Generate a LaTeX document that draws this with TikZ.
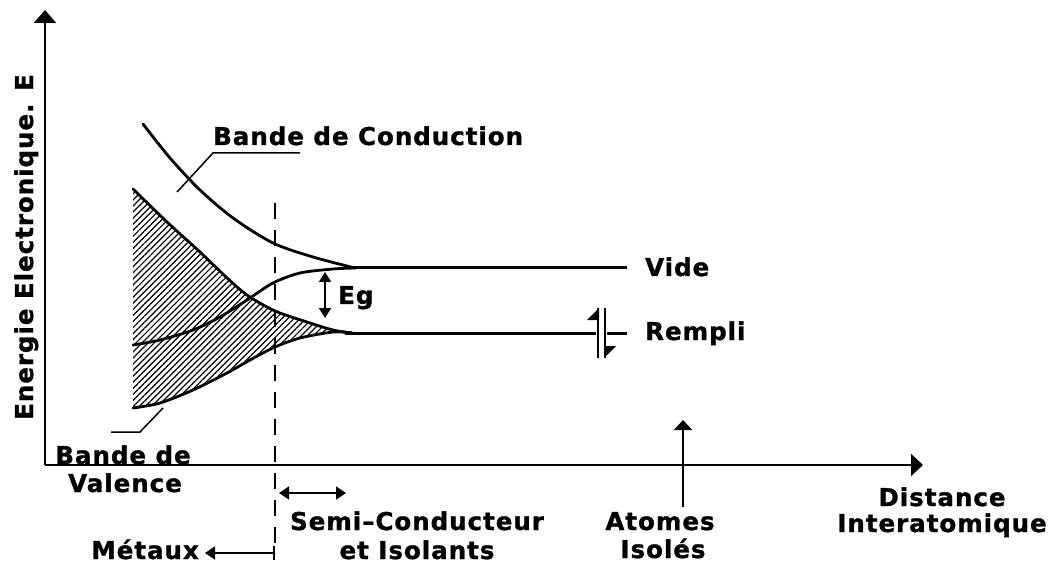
\documentclass[tikz,border=0pt]{standalone}
\usepackage{fontspec}
\setmainfont[LetterSpace=4,BoldFeatures={FakeBold=1.2}]{DejaVu Sans}
\usetikzlibrary{arrows.meta,patterns.meta}
\begin{document}
\begin{tikzpicture}[x=1pt,y=-1pt,
  lbl/.style={font=\bfseries\fontsize{24.5}{28}\selectfont, inner sep=0pt},
  band/.style={line width=2.8pt, line join=round, line cap=round},
  level/.style={line width=3pt},
  axis/.style={line width=2pt},
  leader/.style={line width=1.5pt},
  divider/.style={line width=2pt, dash pattern=on 16pt off 11pt},
  hatch/.style={pattern={Lines[angle=45,distance=4.3pt,line width=1.2pt]}},
  bigtip/.style={-{Triangle[width=22pt,length=13pt]}},
  smalltip/.style={{Triangle[width=12pt,length=10pt]}-{Triangle[width=12pt,length=10pt]}}
]
\useasboundingbox (0,0) rectangle (1058,564);

% hatched valence band
\fill[hatch] plot[smooth] coordinates {(133,189) (167,222) (200,252) (225,276) (247,295) (275,311) (307,322) (333,330) (352,333)}
  -- plot[smooth] coordinates {(352,333) (333,332) (300,338) (275,347) (250,360) (227,373) (193,390) (160,403) (133,408)} -- cycle;

% axes
\coordinate (O) at (45,465);
\coordinate (Ytop) at (45,10);
\coordinate (Xend) at (923,465);
\draw[axis,bigtip] (O) -- (Ytop);
\draw[axis,-{Triangle[width=22pt,length=12pt]}] (O) -- (Xend);

% divider
\coordinate (Dtop) at (275,203);
\coordinate (Dbot) at (275,552);
\draw[divider] (Dtop) -- (Dbot);

% band curves
\draw[band] plot[smooth] coordinates {(143,124) (170,158) (200,190) (233,218) (273,243) (313,257) (355,268)};
\draw[band] plot[smooth] coordinates {(133,345) (160,340) (193,330) (220,317) (247,300) (273,283) (300,273) (333,269) (355,268)};
\draw[band] plot[smooth] coordinates {(133,189) (167,222) (200,252) (225,276) (247,295) (275,311) (307,322) (333,330) (352,333)};
\draw[band] plot[smooth] coordinates {(133,408) (160,403) (193,390) (227,373) (250,360) (275,347) (300,338) (333,332) (352,333)};

% levels
\coordinate (Vs) at (350,268);
\coordinate (Ve) at (627,268);
\draw[level] (Vs) -- (Ve);
\coordinate (Rs) at (345,333);
\coordinate (Rb1) at (596,333);
\coordinate (Rb2) at (607,333);
\coordinate (Re) at (627,333);
\draw[level] (Rs) -- (Rb1);
\draw[level] (Rb2) -- (Re);
% spin bars
\draw[line width=2pt] (598,308) -- (598,358);
\draw[line width=2pt] (605,308) -- (605,358);
\fill (599,308) -- (587,320) -- (599,320) -- cycle;
\fill (604,358) -- (616,346) -- (604,346) -- cycle;

% labels
\node[lbl, anchor=base west] (cond) at (213,145) {Bande de Conduction};
\node[lbl, anchor=base west] (vide) at (645,276) {Vide};
\node[lbl, anchor=base west] (rempli) at (645,340) {Rempli};
\node[lbl, anchor=base west] (eg) at (338,304) {Eg};
\node[lbl, anchor=base] (val1) at (123,464) {Bande de};
\node[lbl, anchor=base] (val2) at (125,492) {Valence};
\node[lbl, anchor=base] (sc1) at (417,530) {Semi–Conducteur};
\node[lbl, anchor=base] (sc2) at (417,559) {et Isolants};
\node[lbl, anchor=base east] (met) at (199,559) {Métaux};
\node[lbl, anchor=base] (at1) at (660,530) {Atomes};
\node[lbl, anchor=base] (at2) at (663,558) {Isolés};
\node[lbl, anchor=base] (di1) at (942,506) {Distance};
\node[lbl, anchor=base] (di2) at (942,532) {Interatomique};
\node[lbl, rotate=90, anchor=base] (ylab) at (33,247) {Energie Electronique. E};

% leaders
\coordinate (c1) at (177,192);
\coordinate (c2) at (213,153);
\coordinate (c3) at (300,153);
\draw[leader] (c1) -- (c2) -- (c3);
\coordinate (v1) at (163,408);
\coordinate (v2) at (140,432);
\coordinate (v3) at (111,432);
\draw[leader] (v1) -- (v2) -- (v3);

% Eg arrow
\coordinate (eg1) at (325,272);
\coordinate (eg2) at (325,318);
\draw[line width=1.6pt, smalltip] (eg1) -- (eg2);

% semi-conducteur arrow
\coordinate (s1) at (279,493);
\coordinate (s2) at (346,493);
\draw[line width=1.6pt, {Triangle[width=13pt,length=10pt]}-{Triangle[width=13pt,length=10pt]}] (s1) -- (s2);

% metaux arrow
\coordinate (m1) at (275,553);
\coordinate (m2) at (205,553);
\draw[line width=1.6pt, {Bar[width=14pt]}-{Triangle[width=13pt,length=10pt]}] (m1) -- (m2);

% atomes isoles arrow
\coordinate (a1) at (683,507);
\coordinate (a2) at (683,420);
\draw[line width=1.8pt, -{Triangle[width=18pt,length=10pt]}] (a1) -- (a2);
\end{tikzpicture}
\end{document}
